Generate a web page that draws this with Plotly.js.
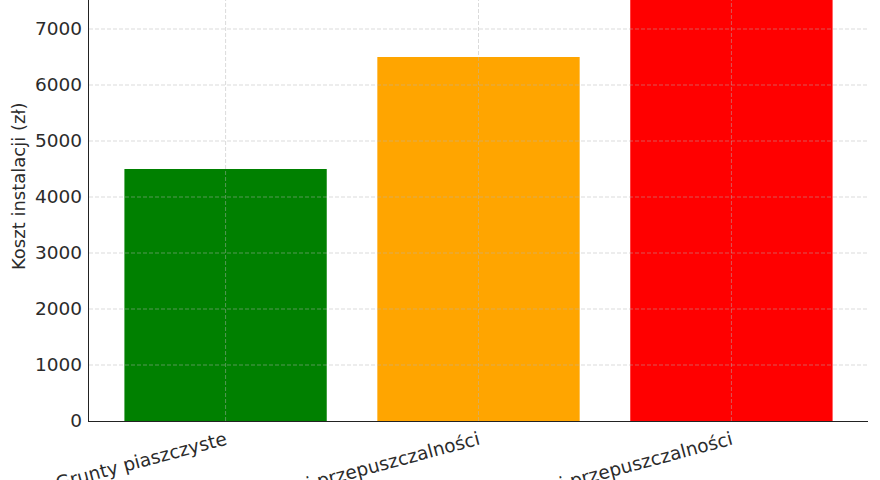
<!DOCTYPE html>
<html>
<head>
<meta charset="utf-8">
<script src="https://cdn.plot.ly/plotly-3.0.1.min.js"></script>
<style>
  html, body { margin: 0; padding: 0; background: #fff; }
  #chart { width: 880px; height: 480px; }
</style>
</head>
<body>
<div id="chart"></div>
<script>
/* ----- Data ----- */
var categories = [
    'Grunty piaszczyste',
    'Grunty o średniej przepuszczalności',
    'Grunty o niskiej przepuszczalności'
];
var costs = [4500, 6500, 8000];
var barColors = ['#008000', '#ffa500', '#ff0000'];
var yTicks = [0, 1000, 2000, 3000, 4000, 5000, 6000, 7000];

var textColor = '#2b2b2b';
var gridColor = 'rgba(180, 180, 180, 0.6)';

var bars = {
    type: 'bar',
    x: categories,
    y: costs,
    width: 0.8,
    marker: { color: barColors, line: { width: 0 } },
    hoverinfo: 'none'
};

/* gridlines drawn above the bars, like the original */
var gridShapes = [];
yTicks.forEach(function (t) {
    if (t === 0) return;
    gridShapes.push({
        type: 'line', layer: 'above',
        xref: 'paper', x0: 0, x1: 1,
        yref: 'y', y0: t, y1: t,
        line: { color: gridColor, width: 0.8, dash: '4px,2px' }
    });
});
categories.forEach(function (c) {
    gridShapes.push({
        type: 'line', layer: 'above',
        xref: 'x', x0: c, x1: c,
        yref: 'paper', y0: 0, y1: 1,
        line: { color: gridColor, width: 0.8, dash: '4px,2px' }
    });
});

var layout = {
    width: 880,
    height: 480,
    margin: { l: 89, r: 12, t: 0, b: 59 },
    paper_bgcolor: '#ffffff',
    plot_bgcolor: '#ffffff',
    showlegend: false,
    font: { family: 'DejaVu Sans, sans-serif', size: 18, color: textColor },
    xaxis: {
        range: [-0.54, 2.54],
        tickangle: -15,
        showgrid: false,
        showline: true,
        linecolor: '#222222',
        linewidth: 1.3,
        ticks: '',
        tickfont: { size: 18.5, color: textColor },
        fixedrange: true
    },
    yaxis: {
        range: [0, 7518],
        tickvals: yTicks,
        ticktext: yTicks.map(String),
        showgrid: false,
        zeroline: false,
        showline: true,
        linecolor: '#222222',
        linewidth: 1.3,
        ticks: '',
        ticklabelstandoff: 2,
        tickfont: { size: 18.5, color: textColor },
        fixedrange: true
    },
    shapes: gridShapes,
    annotations: [{
        text: 'Koszt instalacji (zł)',
        textangle: -90,
        xref: 'paper', x: 0, xanchor: 'center', xshift: -71,
        yref: 'paper', y: 0.558, yanchor: 'middle',
        showarrow: false,
        font: { size: 18, color: textColor }
    }]
};

Plotly.newPlot('chart', [bars], layout, { staticPlot: true });
</script>
</body>
</html>
